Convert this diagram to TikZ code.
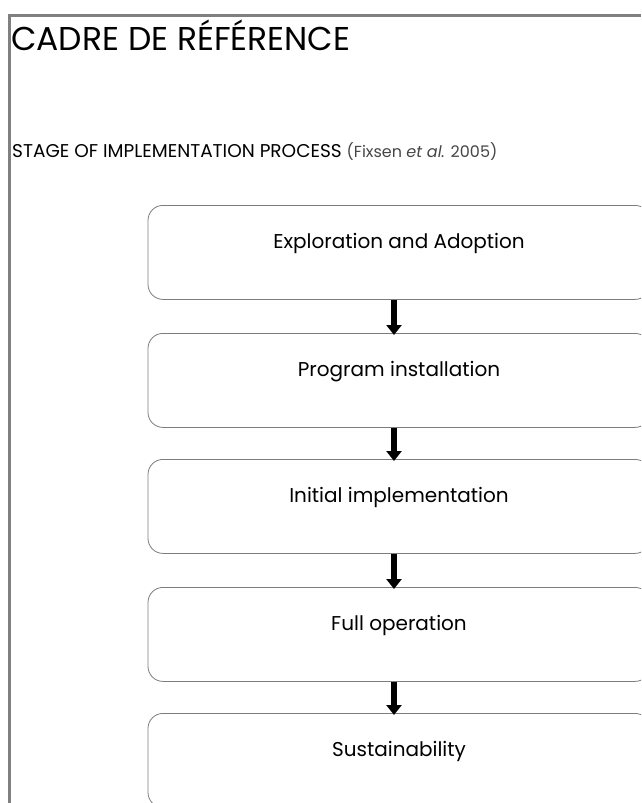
\documentclass[tikz,border=0pt]{standalone}
\usepackage{fontspec}
\setmainfont{Poppins}
\usetikzlibrary{arrows.meta}
\definecolor{framegray}{RGB}{128,128,128}
\definecolor{boxgray}{RGB}{125,125,125}
\definecolor{citegray}{RGB}{70,70,70}
\tikzset{
  stagebox/.style={draw=boxgray, line width=0.8pt, rounded corners=15pt,
    minimum width=502pt, minimum height=94pt, anchor=north, inner sep=0pt,
    text height=12pt, text depth=20pt, font=\fontsize{20}{24}\selectfont},
  flow/.style={line width=5.5pt, -{Triangle[width=15pt,length=10pt]}, shorten >=-2pt},
  heading/.style={anchor=base west, inner sep=0pt},
}
\begin{document}
\begin{tikzpicture}[x=1pt, y=-1pt]
  \useasboundingbox (0,0) rectangle (641,803);
  \clip (0,0) rectangle (641,803);
  % slide frame
  \draw[framegray, line width=3pt] (9,803) -- (9,15) -- (641,15);
  % headings
  \node[heading, font=\fontsize{33}{40}\selectfont] (title) at (11,50) {CADRE DE RÉFÉRENCE};
  \node[heading, font=\fontsize{18.5}{22}\selectfont] (subtitle) at (12,157)
    {STAGE OF IMPLEMENTATION PROCESS {\color{citegray}\fontsize{16}{20}\selectfont(Fixsen \textit{et al.} 2005)}};
  % stages
  \node[stagebox] (b1) at (399,205) {Exploration and Adoption};
  \node[stagebox] (b2) at (399,333) {Program installation};
  \node[stagebox] (b3) at (399,459) {Initial implementation};
  \node[stagebox] (b4) at (399,587) {Full operation};
  \node[stagebox] (b5) at (399,713) {Sustainability};
  \draw[flow] ([xshift=-5pt]b1.south) -- ([xshift=-5pt]b2.north);
  \draw[flow] ([xshift=-5pt]b2.south) -- ([xshift=-5pt]b3.north);
  \draw[flow] ([xshift=-5pt]b3.south) -- ([xshift=-5pt]b4.north);
  \draw[flow] ([xshift=-5pt]b4.south) -- ([xshift=-5pt]b5.north);
\end{tikzpicture}
\end{document}
